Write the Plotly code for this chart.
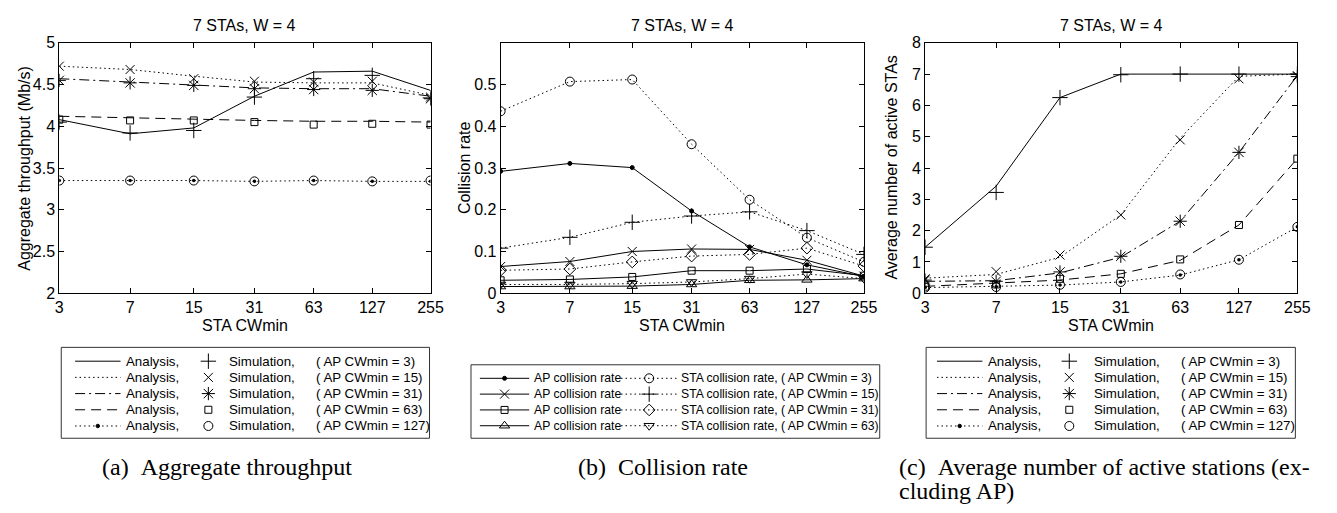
import math
import plotly.graph_objects as go

# ---------------- data ----------------
sta_cwmin = [3, 7, 15, 31, 63, 127, 255]
sta_cwmin_labels = ["3", "7", "15", "31", "63", "127", "255"]
ap_cwmin_ac = [3, 15, 31, 63, 127]
ap_cwmin_b = [3, 15, 31, 63]

# (a) aggregate throughput (Mb/s)
thr_ana_3 = [4.08, 3.91, 3.98, 4.36, 4.65, 4.66, 4.43]
thr_sim_3 = [4.05, 3.92, 3.95, 4.35, 4.57, 4.61, 4.34]
thr_ana_15 = [4.72, 4.68, 4.60, 4.53, 4.52, 4.52, 4.37]
thr_sim_15 = [4.72, 4.68, 4.57, 4.54, 4.53, 4.54, 4.35]
thr_ana_31 = [4.57, 4.53, 4.49, 4.46, 4.45, 4.45, 4.36]
thr_sim_31 = [4.55, 4.52, 4.49, 4.45, 4.44, 4.43, 4.33]
thr_ana_63 = [4.12, 4.10, 4.08, 4.07, 4.06, 4.06, 4.05]
thr_sim_63 = [4.08, 4.07, 4.07, 4.05, 4.02, 4.03, 4.02]
thr_ana_127 = [3.35, 3.35, 3.35, 3.34, 3.35, 3.34, 3.34]
thr_sim_127 = [3.35, 3.35, 3.35, 3.34, 3.35, 3.34, 3.35]

# (b) collision rate
ap_col_3 = [0.292, 0.311, 0.301, 0.197, 0.111, 0.068, 0.040]
sta_col_3 = [0.436, 0.507, 0.512, 0.357, 0.224, 0.133, 0.075]
ap_col_15 = [0.064, 0.076, 0.100, 0.106, 0.105, 0.079, 0.041]
sta_col_15 = [0.108, 0.134, 0.170, 0.185, 0.195, 0.150, 0.093]
ap_col_31 = [0.031, 0.033, 0.039, 0.054, 0.054, 0.058, 0.042]
sta_col_31 = [0.055, 0.058, 0.075, 0.089, 0.093, 0.108, 0.065]
ap_col_63 = [0.016, 0.016, 0.017, 0.021, 0.031, 0.032, 0.035]
sta_col_63 = [0.021, 0.021, 0.023, 0.027, 0.035, 0.046, 0.035]

# (c) average number of active STAs
act_ana_3 = [1.47, 3.42, 6.25, 7.0, 7.0, 7.0, 7.0]
act_sim_3 = [1.47, 3.22, 6.25, 6.98, 7.0, 7.0, 7.0]
act_ana_15 = [0.48, 0.60, 1.15, 2.50, 4.95, 6.93, 7.0]
act_sim_15 = [0.46, 0.69, 1.22, 2.50, 4.90, 6.85, 6.95]
act_ana_31 = [0.38, 0.40, 0.65, 1.15, 2.30, 4.50, 6.95]
act_sim_31 = [0.42, 0.38, 0.68, 1.18, 2.30, 4.50, 6.92]
act_ana_63 = [0.22, 0.33, 0.42, 0.62, 1.05, 2.18, 4.30]
act_sim_63 = [0.21, 0.28, 0.46, 0.62, 1.08, 2.18, 4.30]
act_ana_127 = [0.18, 0.21, 0.26, 0.36, 0.58, 1.07, 2.12]
act_sim_127 = [0.18, 0.20, 0.27, 0.36, 0.60, 1.07, 2.12]

plot_title = "7 STAs, W = 4"
captions = ["(a)\u00a0\u00a0Aggregate throughput", "(b)\u00a0\u00a0Collision rate",
            "(c)\u00a0\u00a0Average number of active stations (ex-", "cluding AP)"]

# ---------------- layout helpers ----------------
W, H = 1337, 513
def px(x): return x / W
def py(y): return 1 - y / H

SANS = "Liberation Sans, Arial, Helvetica, sans-serif"
SERIF = "Liberation Serif, Times New Roman, serif"
BLK = "black"

DOT = "1.5px,3px"
DASH = "10px,6px"
DASHDOT = "10px,4px,2px,4px"

styles_ac = [  # line dash, line marker, sim symbol, sim size
    ("solid", None, "cross-thin-open", 11),
    (DOT, None, "x-thin-open", 9),
    (DASHDOT, None, "asterisk-open", 11),
    (DASH, None, "square-open", 7),
    (DOT, "dot", "circle-open", 9),
]

fig = go.Figure()

def add_ac(ana_list, sim_list, xa, ya):
    for (dash, lm, sym, ss), ana, sim in zip(styles_ac, ana_list, sim_list):
        fig.add_trace(go.Scatter(
            x=sta_cwmin, y=ana, xaxis=xa, yaxis=ya,
            mode="lines+markers" if lm else "lines",
            line=dict(color=BLK, width=1, dash=dash),
            marker=dict(symbol="circle", size=3.5, color=BLK),
            showlegend=False, hoverinfo="skip"))
        fig.add_trace(go.Scatter(
            x=sta_cwmin, y=sim, xaxis=xa, yaxis=ya, mode="markers",
            marker=dict(symbol=sym, size=ss, color=BLK, line=dict(color=BLK, width=1)),
            showlegend=False, hoverinfo="skip"))

add_ac([thr_ana_3, thr_ana_15, thr_ana_31, thr_ana_63, thr_ana_127],
       [thr_sim_3, thr_sim_15, thr_sim_31, thr_sim_63, thr_sim_127], "x", "y")
add_ac([act_ana_3, act_ana_15, act_ana_31, act_ana_63, act_ana_127],
       [act_sim_3, act_sim_15, act_sim_31, act_sim_63, act_sim_127], "x3", "y3")

ap_syms = [("circle", 4), ("x-thin-open", 9), ("square-open", 7), ("triangle-up-open", 9)]
sta_syms = [("circle-open", 9), ("cross-thin-open", 11), ("diamond-open", 9), ("triangle-down-open", 9)]
ap_cols = [ap_col_3, ap_col_15, ap_col_31, ap_col_63]
sta_cols = [sta_col_3, sta_col_15, sta_col_31, sta_col_63]
for (asym, asz), (ssym, ssz), apv, stv in zip(ap_syms, sta_syms, ap_cols, sta_cols):
    fig.add_trace(go.Scatter(
        x=sta_cwmin, y=stv, xaxis="x2", yaxis="y2", mode="lines+markers",
        line=dict(color=BLK, width=1, dash=DOT),
        marker=dict(symbol=ssym, size=ssz, color=BLK, line=dict(color=BLK, width=1)),
        showlegend=False, hoverinfo="skip"))
    fig.add_trace(go.Scatter(
        x=sta_cwmin, y=apv, xaxis="x2", yaxis="y2", mode="lines+markers",
        line=dict(color=BLK, width=1),
        marker=dict(symbol=asym, size=asz, color=BLK, line=dict(color=BLK, width=1)),
        showlegend=False, hoverinfo="skip"))

# ---------------- axes ----------------
plot_boxes = [(56, 432), (503, 871), (933, 1310)]
ytop, ybot = 36, 295
common = dict(showline=True, linecolor=BLK, linewidth=1, mirror="ticks", ticks="inside",
              ticklen=5, tickcolor=BLK, showgrid=False, zeroline=False,
              tickfont=dict(family=SANS, size=16, color=BLK))
yspecs = [
    dict(range=[2, 5], tickvals=[2, 2.5, 3, 3.5, 4, 4.5, 5],
         ticktext=["2", "2.5", "3", "3.5", "4", "4.5", "5"]),
    dict(range=[0, 0.6], tickvals=[0, 0.1, 0.2, 0.3, 0.4, 0.5],
         ticktext=["0", "0.1", "0.2", "0.3", "0.4", "0.5"]),
    dict(range=[0, 8], tickvals=list(range(9)), ticktext=[str(i) for i in range(9)]),
]
layout_axes = {}
for i, ((l, r), ys) in enumerate(zip(plot_boxes, yspecs)):
    sfx = "" if i == 0 else str(i + 1)
    layout_axes["xaxis" + sfx] = dict(common, domain=[px(l), px(r)], type="log",
                                      range=[math.log10(3), math.log10(255)],
                                      tickvals=sta_cwmin, ticktext=sta_cwmin_labels,
                                      anchor="y" + sfx)
    layout_axes["yaxis" + sfx] = dict(common, domain=[py(ybot), py(ytop)],
                                      anchor="x" + sfx, **ys)

# legend axes
leg_boxes = {4: (58, 431, 351, 445), 5: (473, 887, 369, 445), 6: (934, 1308, 351, 445)}
for k, (l, r, t, b) in leg_boxes.items():
    layout_axes["xaxis%d" % k] = dict(domain=[px(l), px(r)], range=[0, r - l], visible=False,
                                      anchor="y%d" % k, fixedrange=True)
    layout_axes["yaxis%d" % k] = dict(domain=[py(b), py(t)], range=[b - t, 0], visible=False,
                                      anchor="x%d" % k, fixedrange=True)

annotations = []
shapes = []

def ann(x, y, text, font, xanchor="center", yanchor="middle", **kw):
    d = dict(x=px(x), y=py(y), xref="paper", yref="paper", text=text, showarrow=False,
             xanchor=xanchor, yanchor=yanchor, font=font)
    d.update(kw)
    annotations.append(d)

F16 = dict(family=SANS, size=16, color=BLK)
ylabels = ["Aggregate throughput (Mb/s)", "Collision rate", "Average number of active STAs"]
ylab_x = [20, 466, 898]
for (l, r), yl, yx in zip(plot_boxes, ylabels, ylab_x):
    ann((l + r) / 2, 18, plot_title, F16)
    ann((l + r) / 2, 328, "STA CWmin", F16)
    ann(yx, (ytop + ybot) / 2, yl, F16, textangle=-90)

for k, (l, r, t, b) in leg_boxes.items():
    shapes.append(dict(type="rect", xref="paper", yref="paper", x0=px(l), x1=px(r),
                       y0=py(b), y1=py(t), line=dict(color="#333", width=1)))

def leg_line(k, x0, x1, y, dash, mid=None):
    fig.add_trace(go.Scatter(x=[x0, x1], y=[y, y], xaxis="x%d" % k, yaxis="y%d" % k,
                             mode="lines", line=dict(color=BLK, width=1, dash=dash),
                             showlegend=False, hoverinfo="skip"))
    if mid:
        sym, sz = mid
        fig.add_trace(go.Scatter(x=[(x0 + x1) / 2], y=[y], xaxis="x%d" % k, yaxis="y%d" % k,
                                 mode="markers",
                                 marker=dict(symbol=sym, size=sz, color=BLK,
                                             line=dict(color=BLK, width=1)),
                                 showlegend=False, hoverinfo="skip"))

def leg_marker(k, x, y, sym, sz):
    fig.add_trace(go.Scatter(x=[x], y=[y], xaxis="x%d" % k, yaxis="y%d" % k, mode="markers",
                             marker=dict(symbol=sym, size=sz, color=BLK,
                                         line=dict(color=BLK, width=1)),
                             showlegend=False, hoverinfo="skip"))

def leg_text(k, x, y, s, size):
    annotations.append(dict(x=x, y=y, xref="x%d" % k, yref="y%d" % k, text=s,
                            showarrow=False, xanchor="left", yanchor="middle",
                            font=dict(family=SANS, size=size, color=BLK)))

for k, (lx0, lx1, tx1, mx, tx2, tx3) in {4: (14, 60, 64, 149, 168, 256),
                                        6: (11, 57, 61, 145, 168, 256)}.items():
    for i, ((dash, lm, sym, ss), ap) in enumerate(zip(styles_ac, ap_cwmin_ac)):
        y = 14.3 + 16.75 * i
        leg_line(k, lx0, lx1, y, dash, ("circle", 3.5) if lm else None)
        leg_text(k, tx1, y, "Analysis,", 13.3)
        leg_marker(k, mx, y, sym, ss)
        leg_text(k, tx2, y, "Simulation,", 13.3)
        leg_text(k, tx3, y, "( AP CWmin = %d)" % ap, 13.3)

for i, ((asym, asz), (ssym, ssz), ap) in enumerate(zip(ap_syms, sta_syms, ap_cwmin_b)):
    y = 14 + 16.35 * i
    leg_line(5, 9, 59, y, "solid", (asym, asz))
    leg_text(5, 62, y, "AP collision rate", 12.2)
    leg_line(5, 152, 209, y, DOT, (ssym, ssz))
    leg_text(5, 211, y, "STA collision rate, ( AP CWmin = %d)" % ap, 12.2)

CAPF = dict(family=SERIF, size=24, color=BLK)
ann(226, 475, captions[0], CAPF)
ann(667, 475, captions[1], CAPF)
ann(905, 475, captions[2], CAPF, xanchor="left")
ann(905, 500, captions[3], CAPF, xanchor="left")

fig.update_layout(width=W, height=H, margin=dict(l=0, r=0, t=0, b=0),
                  paper_bgcolor="white", plot_bgcolor="white",
                  annotations=annotations, shapes=shapes, showlegend=False,
                  **layout_axes)

fig.write_html("out.html", config={"displayModeBar": False},
               post_script="document.body.style.margin='0';document.body.style.overflow='hidden';")
